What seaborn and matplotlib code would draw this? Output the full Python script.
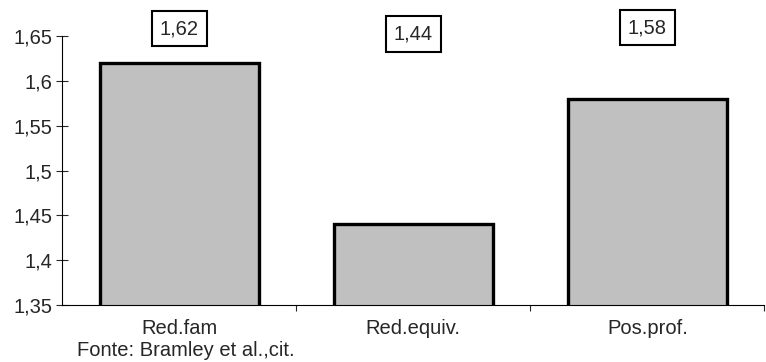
import numpy as np
import pandas as pd
import seaborn as sns
import matplotlib.pyplot as plt
from matplotlib.ticker import FixedLocator, FuncFormatter

categorias = ["Red.fam", "Red.equiv.", "Pos.prof."]
valores = [1.62, 1.44, 1.58]
etiquetas = ["1,62", "1,44", "1,58"]
yticks = [1.35, 1.4, 1.45, 1.5, 1.55, 1.6, 1.65]

sns.set_style("white")
plt.rcParams["font.family"] = ["Liberation Sans", "DejaVu Sans"]

data = pd.DataFrame({"cat": categorias, "val": valores})

fig = plt.figure(figsize=(7.66, 3.62), dpi=100)
ax = fig.add_axes([0.081, 0.157, 0.917, 0.744])

sns.barplot(data=data, x="cat", y="val", color="#c0c0c0", edgecolor="black",
            linewidth=2.4, width=0.68, saturation=1, ax=ax)

fs = 14.5
ax.set_ylim(1.35, 1.65)
ax.set_xlim(-0.5, 2.5)
ax.set_yticks(yticks)
ax.yaxis.set_major_formatter(FuncFormatter(lambda v, p: ("%g" % round(v, 2)).replace(".", ",")))
ax.tick_params(axis="y", direction="inout", length=8, width=0.8, labelsize=fs, pad=3, left=True)
ax.tick_params(axis="x", which="major", length=0, labelsize=fs, pad=10)
ax.xaxis.set_minor_locator(FixedLocator([0.5, 1.5, 2.5]))
ax.tick_params(axis="x", which="minor", direction="out", length=4.5, width=0.8, bottom=True)
ax.set_xlabel("")
ax.set_ylabel("")
for s in ["top", "right"]:
    ax.spines[s].set_visible(False)
for s in ["left", "bottom"]:
    ax.spines[s].set_color("black")
    ax.spines[s].set_linewidth(0.8)

ypos = [1.658, 1.652, 1.659]
for i, (lab, yp) in enumerate(zip(etiquetas, ypos)):
    ax.text(i, yp, lab, ha="center", va="center", fontsize=fs, clip_on=False,
            bbox=dict(boxstyle="square,pad=0.4", facecolor="white", edgecolor="black", linewidth=1.5))

fig.text(0.243, 0.033, "Fonte: Bramley et al.,cit.", fontsize=fs, ha="center", va="center")

fig.savefig("out.png", dpi=100)
